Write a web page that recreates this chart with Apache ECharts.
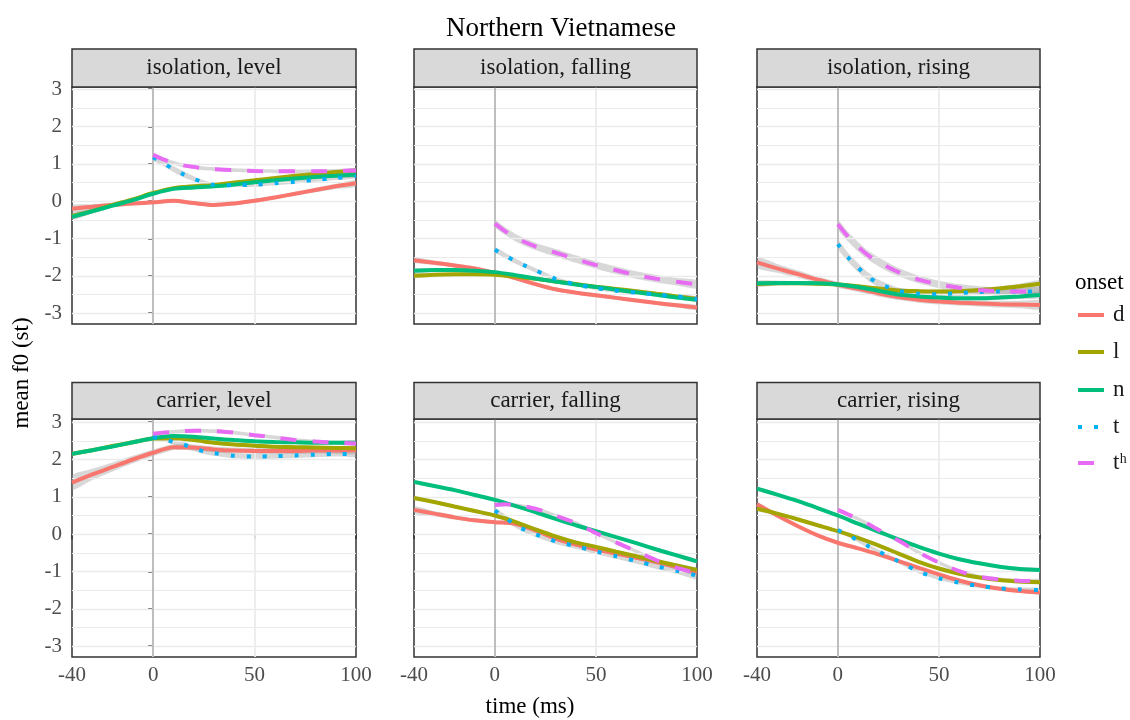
<!DOCTYPE html>
<html>
<head>
<meta charset="utf-8">
<script src="https://cdn.jsdelivr.net/npm/echarts@6/dist/echarts.min.js"></script>
<style>html,body{margin:0;padding:0;background:#fff}#c{width:1130px;height:720px}</style>
</head>
<body>
<div id="c"></div>
<script>
// ---------- data ----------
const xFull = [-40,-30,-20,-10,0,10,20,30,40,50,60,70,80,90,100];
const xOnset = [0,5,10,15,20,25,30,40,50,60,70,80,90,100];
const xTickLabels = [-40,0,50,100];
const yTickLabels = [-3,-2,-1,0,1,2,3];
const yMinorGrid = [-2.5,-1.5,-0.5,0.5,1.5,2.5];
const xMajorGrid = [50];
const onsetMarker = [0];
const onsets = ['d','l','n','t','tʰ'];
const panelTitles = ['isolation, level','isolation, falling','isolation, rising','carrier, level','carrier, falling','carrier, rising'];

// isolation, level
const isoLevel_d  = [-0.2,-0.15,-0.1,-0.06,-0.03,0.01,-0.05,-0.1,-0.06,0.01,0.1,0.2,0.3,0.4,0.48];
const isoLevel_l  = [-0.4,-0.26,-0.1,0.05,0.22,0.35,0.4,0.43,0.5,0.56,0.62,0.68,0.73,0.78,0.82];
const isoLevel_n  = [-0.42,-0.27,-0.12,0.03,0.2,0.33,0.37,0.4,0.45,0.51,0.56,0.61,0.65,0.68,0.71];
const isoLevel_t  = [1.18,1.02,0.86,0.72,0.6,0.5,0.44,0.43,0.44,0.48,0.52,0.57,0.62,0.67];
const isoLevel_th = [1.24,1.12,1.03,0.96,0.92,0.88,0.86,0.83,0.81,0.8,0.8,0.8,0.81,0.82];
// isolation, falling
const isoFall_d  = [-1.58,-1.65,-1.72,-1.8,-1.92,-2.06,-2.22,-2.36,-2.45,-2.52,-2.59,-2.66,-2.73,-2.79,-2.85];
const isoFall_l  = [-2.0,-1.97,-1.96,-1.96,-1.97,-2.02,-2.08,-2.15,-2.22,-2.29,-2.35,-2.41,-2.48,-2.55,-2.62];
const isoFall_n  = [-1.86,-1.84,-1.84,-1.86,-1.9,-1.98,-2.07,-2.15,-2.23,-2.3,-2.37,-2.44,-2.51,-2.58,-2.64];
const isoFall_t  = [-1.3,-1.45,-1.6,-1.73,-1.85,-1.97,-2.08,-2.23,-2.33,-2.4,-2.45,-2.5,-2.55,-2.62];
const isoFall_th = [-0.6,-0.8,-0.97,-1.1,-1.21,-1.3,-1.38,-1.55,-1.71,-1.85,-1.98,-2.08,-2.16,-2.23];
// isolation, rising
const isoRise_d  = [-1.64,-1.8,-1.95,-2.1,-2.24,-2.35,-2.47,-2.57,-2.64,-2.69,-2.72,-2.74,-2.76,-2.77,-2.78];
const isoRise_l  = [-2.22,-2.2,-2.2,-2.21,-2.23,-2.28,-2.34,-2.39,-2.41,-2.42,-2.41,-2.38,-2.34,-2.28,-2.21];
const isoRise_n  = [-2.2,-2.19,-2.19,-2.2,-2.23,-2.3,-2.4,-2.5,-2.55,-2.58,-2.6,-2.6,-2.58,-2.55,-2.51];
const isoRise_t  = [-1.15,-1.5,-1.78,-2.02,-2.2,-2.31,-2.4,-2.48,-2.49,-2.46,-2.43,-2.42,-2.42,-2.42];
const isoRise_th = [-0.62,-0.95,-1.22,-1.45,-1.62,-1.77,-1.9,-2.1,-2.23,-2.32,-2.38,-2.41,-2.42,-2.42];
// carrier, level
const carLevel_d  = [1.38,1.6,1.8,2.0,2.18,2.33,2.32,2.27,2.24,2.23,2.23,2.23,2.24,2.24,2.25];
const carLevel_l  = [2.15,2.25,2.36,2.46,2.56,2.57,2.52,2.45,2.4,2.37,2.34,2.33,2.32,2.31,2.3];
const carLevel_n  = [2.15,2.25,2.35,2.46,2.57,2.63,2.61,2.56,2.52,2.49,2.47,2.46,2.45,2.45,2.45];
const carLevel_t  = [2.6,2.56,2.47,2.4,2.3,2.22,2.17,2.1,2.08,2.09,2.11,2.13,2.15,2.15];
const carLevel_th = [2.69,2.72,2.74,2.76,2.77,2.77,2.76,2.72,2.65,2.59,2.52,2.48,2.45,2.43];
// carrier, falling
const carFall_d  = [0.65,0.55,0.45,0.37,0.32,0.28,0.1,-0.12,-0.28,-0.41,-0.52,-0.63,-0.75,-0.88,-1.02];
const carFall_l  = [0.97,0.86,0.74,0.62,0.5,0.33,0.13,-0.06,-0.22,-0.34,-0.47,-0.59,-0.72,-0.84,-0.96];
const carFall_n  = [1.4,1.29,1.18,1.05,0.92,0.76,0.59,0.41,0.24,0.08,-0.08,-0.24,-0.41,-0.57,-0.73];
const carFall_t  = [0.63,0.45,0.25,0.11,0.0,-0.1,-0.19,-0.32,-0.46,-0.59,-0.72,-0.86,-0.98,-1.11];
const carFall_th = [0.78,0.8,0.78,0.74,0.68,0.6,0.5,0.3,0.03,-0.22,-0.46,-0.7,-0.9,-1.04];
// carrier, rising
const carRise_d  = [0.8,0.5,0.22,-0.03,-0.23,-0.38,-0.54,-0.72,-0.9,-1.08,-1.24,-1.37,-1.46,-1.52,-1.56];
const carRise_l  = [0.68,0.55,0.4,0.24,0.08,-0.1,-0.3,-0.52,-0.74,-0.92,-1.06,-1.16,-1.23,-1.27,-1.29];
const carRise_n  = [1.22,1.06,0.89,0.7,0.5,0.28,0.07,-0.14,-0.34,-0.52,-0.67,-0.78,-0.87,-0.93,-0.96];
const carRise_t  = [0.11,-0.02,-0.17,-0.32,-0.46,-0.59,-0.73,-1.0,-1.18,-1.3,-1.39,-1.45,-1.48,-1.5];
const carRise_th = [0.65,0.53,0.41,0.27,0.12,-0.03,-0.17,-0.49,-0.76,-0.99,-1.14,-1.21,-1.25,-1.26];

// confidence-band half widths (read from the grey ribbons)
const ciIsoLevel_d  = [0.1,0.07,0.06,0.05,0.05,0.05,0.05,0.05,0.05,0.05,0.05,0.05,0.06,0.07,0.09];
const ciIsoLevel_l  = [0.08,0.06,0.05,0.04,0.04,0.04,0.04,0.04,0.04,0.04,0.04,0.04,0.05,0.05,0.07];
const ciIsoLevel_n  = [0.08,0.06,0.05,0.04,0.04,0.04,0.04,0.04,0.04,0.04,0.04,0.04,0.05,0.05,0.07];
const ciIsoLevel_t  = [0.08,0.08,0.08,0.08,0.07,0.06,0.05,0.05,0.05,0.05,0.05,0.05,0.05,0.06];
const ciIsoLevel_th = [0.06,0.05,0.05,0.05,0.05,0.05,0.05,0.05,0.05,0.05,0.05,0.05,0.05,0.06];
const ciIsoFall_d  = [0.07,0.06,0.05,0.05,0.05,0.05,0.05,0.05,0.05,0.05,0.05,0.05,0.05,0.06,0.07];
const ciIsoFall_l  = [0.06,0.05,0.04,0.04,0.04,0.04,0.04,0.04,0.04,0.04,0.04,0.04,0.05,0.05,0.06];
const ciIsoFall_n  = [0.06,0.05,0.04,0.04,0.04,0.04,0.04,0.04,0.04,0.04,0.04,0.04,0.05,0.05,0.06];
const ciIsoFall_t  = [0.07,0.07,0.07,0.06,0.06,0.06,0.05,0.05,0.05,0.05,0.05,0.05,0.06,0.07];
const ciIsoFall_th = [0.1,0.1,0.1,0.1,0.1,0.1,0.1,0.1,0.1,0.1,0.1,0.1,0.1,0.11];
const ciIsoRise_d  = [0.15,0.12,0.1,0.08,0.08,0.08,0.08,0.08,0.08,0.08,0.08,0.08,0.09,0.1,0.12];
const ciIsoRise_l  = [0.07,0.06,0.05,0.05,0.05,0.05,0.05,0.05,0.05,0.05,0.05,0.05,0.06,0.07,0.09];
const ciIsoRise_n  = [0.07,0.06,0.05,0.05,0.05,0.05,0.05,0.05,0.05,0.05,0.05,0.05,0.06,0.07,0.09];
const ciIsoRise_t  = [0.12,0.12,0.12,0.11,0.1,0.09,0.08,0.08,0.08,0.08,0.08,0.08,0.08,0.09];
const ciIsoRise_th = [0.13,0.13,0.13,0.12,0.12,0.12,0.11,0.1,0.1,0.1,0.1,0.1,0.1,0.11];
const ciCarLevel_d  = [0.2,0.15,0.12,0.1,0.09,0.08,0.08,0.08,0.08,0.08,0.08,0.08,0.08,0.09,0.1];
const ciCarLevel_l  = [0.05,0.04,0.04,0.04,0.04,0.04,0.04,0.04,0.04,0.04,0.04,0.04,0.04,0.05,0.06];
const ciCarLevel_n  = [0.05,0.04,0.04,0.04,0.04,0.04,0.04,0.04,0.04,0.04,0.04,0.04,0.04,0.05,0.06];
const ciCarLevel_t  = [0.07,0.07,0.07,0.07,0.07,0.07,0.07,0.07,0.07,0.07,0.07,0.07,0.07,0.08];
const ciCarLevel_th = [0.05,0.05,0.05,0.05,0.05,0.05,0.05,0.05,0.05,0.05,0.05,0.05,0.05,0.06];
const ciCarFall_d  = [0.1,0.07,0.06,0.05,0.05,0.05,0.05,0.05,0.05,0.05,0.05,0.05,0.06,0.07,0.09];
const ciCarFall_l  = [0.05,0.04,0.04,0.04,0.04,0.04,0.04,0.04,0.04,0.04,0.04,0.04,0.04,0.05,0.06];
const ciCarFall_n  = [0.05,0.04,0.04,0.04,0.04,0.04,0.04,0.04,0.04,0.04,0.04,0.04,0.04,0.05,0.06];
const ciCarFall_t  = [0.08,0.08,0.07,0.07,0.07,0.07,0.07,0.07,0.07,0.07,0.07,0.07,0.08,0.1];
const ciCarFall_th = [0.05,0.05,0.05,0.05,0.05,0.05,0.05,0.05,0.05,0.05,0.05,0.05,0.05,0.06];
const ciCarRise_d  = [0.06,0.05,0.04,0.04,0.04,0.04,0.04,0.04,0.04,0.04,0.04,0.04,0.04,0.05,0.06];
const ciCarRise_l  = [0.05,0.04,0.04,0.04,0.04,0.04,0.04,0.04,0.04,0.04,0.04,0.04,0.04,0.05,0.05];
const ciCarRise_n  = [0.05,0.04,0.04,0.04,0.04,0.04,0.04,0.04,0.04,0.04,0.04,0.04,0.04,0.05,0.05];
const ciCarRise_t  = [0.05,0.05,0.05,0.05,0.05,0.05,0.05,0.05,0.05,0.05,0.05,0.05,0.05,0.06];
const ciCarRise_th = [0.05,0.05,0.05,0.05,0.05,0.05,0.05,0.05,0.05,0.05,0.05,0.05,0.05,0.06];

// ---------- assembly ----------
const panelValues = [
  [isoLevel_d, isoLevel_l, isoLevel_n, isoLevel_t, isoLevel_th],
  [isoFall_d, isoFall_l, isoFall_n, isoFall_t, isoFall_th],
  [isoRise_d, isoRise_l, isoRise_n, isoRise_t, isoRise_th],
  [carLevel_d, carLevel_l, carLevel_n, carLevel_t, carLevel_th],
  [carFall_d, carFall_l, carFall_n, carFall_t, carFall_th],
  [carRise_d, carRise_l, carRise_n, carRise_t, carRise_th]
];
const panelCI = [
  [ciIsoLevel_d, ciIsoLevel_l, ciIsoLevel_n, ciIsoLevel_t, ciIsoLevel_th],
  [ciIsoFall_d, ciIsoFall_l, ciIsoFall_n, ciIsoFall_t, ciIsoFall_th],
  [ciIsoRise_d, ciIsoRise_l, ciIsoRise_n, ciIsoRise_t, ciIsoRise_th],
  [ciCarLevel_d, ciCarLevel_l, ciCarLevel_n, ciCarLevel_t, ciCarLevel_th],
  [ciCarFall_d, ciCarFall_l, ciCarFall_n, ciCarFall_t, ciCarFall_th],
  [ciCarRise_d, ciCarRise_l, ciCarRise_n, ciCarRise_t, ciCarRise_th]
];
const onsetX = [xFull, xFull, xFull, xOnset, xOnset];

const colors = ['#F8766D','#A3A500','#00BF7D','#00B0F6','#E76BF3'];
const dashes = ['solid','solid','solid',[4,12],[16,16]];
const FONT = '"Liberation Serif", "DejaVu Serif", serif';

const colLeft = [72, 414, 757];
const colWidth = [284, 283, 283];
const rowTop = [87, 419];
const rowHeight = [237, 238];
const rowMax = [3.06, 3.085];
const yMin = -3.29;

const grids = [], xAxes = [], yAxes = [], series = [], graphics = [];

for (let p = 0; p < 6; p++) {
  const r = Math.floor(p / 3), c = p % 3;
  grids.push({left: colLeft[c], top: rowTop[r], width: colWidth[c], height: rowHeight[r],
    show: true, borderColor: '#333333', borderWidth: 1.5, backgroundColor: '#fff', containLabel: false});
  const bottomRow = r === 1, leftCol = c === 0;
  xAxes.push({type: 'value', gridIndex: p, min: -40, max: 100,
    axisLine: {show: false}, splitLine: {show: false},
    axisTick: {show: bottomRow, customValues: xTickLabels, length: 5, lineStyle: {color: '#333', width: 1.5}},
    axisLabel: {show: bottomRow, customValues: xTickLabels, margin: 8, fontFamily: FONT, fontSize: 21, color: '#4d4d4d'}
  });
  yAxes.push({type: 'value', gridIndex: p, min: yMin, max: rowMax[r],
    axisLine: {show: false}, splitLine: {show: false},
    axisTick: {show: leftCol, customValues: yTickLabels, length: 5, lineStyle: {color: '#333', width: 1.5}},
    axisLabel: {show: leftCol, customValues: yTickLabels, margin: 10, fontFamily: FONT, fontSize: 21, color: '#4d4d4d'}
  });

  // grid lines + onset marker
  const mlData = [];
  yTickLabels.forEach(v => mlData.push({yAxis: v, lineStyle: {color: '#ebebeb', width: 1.4, type: 'solid'}}));
  yMinorGrid.forEach(v => mlData.push({yAxis: v, lineStyle: {color: '#ebebeb', width: 1, type: 'solid'}}));
  xMajorGrid.forEach(v => mlData.push({xAxis: v, lineStyle: {color: '#ebebeb', width: 1.8, type: 'solid'}}));
  onsetMarker.forEach(v => mlData.push({xAxis: v, lineStyle: {color: '#bebebe', width: 2, type: 'solid'}}));
  series.push({type: 'line', xAxisIndex: p, yAxisIndex: p, data: [], symbol: 'none',
    lineStyle: {width: 0, opacity: 0}, z: 1, silent: true, animation: false,
    markLine: {silent: true, symbol: ['none','none'], label: {show: false}, animation: false,
      emphasis: {disabled: true}, data: mlData}});

  // bands
  for (let k = 0; k < 5; k++) {
    const xs = onsetX[k], ys = panelValues[p][k], hw = panelCI[p][k];
    series.push({type: 'custom', xAxisIndex: p, yAxisIndex: p, z: 2, silent: true, animation: false,
      clip: true, encode: {x: 0, y: [1, 2]},
      data: xs.map((x, i) => [x, ys[i] - hw[i], ys[i] + hw[i]]),
      renderItem: function (params, api) {
        if (params.dataIndex !== 0) return null;
        const up = xs.map((x, i) => api.coord([x, ys[i] + hw[i]]));
        const lo = xs.map((x, i) => api.coord([x, ys[i] - hw[i]])).reverse();
        return {type: 'polygon', shape: {points: up.concat(lo), smooth: 0.2},
          style: {fill: 'rgba(153,153,153,0.38)'}};
      }});
  }
  // lines
  for (let k = 0; k < 5; k++) {
    const xs = onsetX[k], ys = panelValues[p][k];
    series.push({type: 'line', name: onsets[k], xAxisIndex: p, yAxisIndex: p, z: 5,
      data: xs.map((x, i) => [x, ys[i]]), symbol: 'none', showSymbol: false,
      smooth: 0.3, animation: false, silent: true,
      lineStyle: {color: colors[k], width: 4, type: dashes[k], cap: 'butt'},
      itemStyle: {color: colors[k]}});
  }

  // strip
  const stripTop = r === 0 ? 49 : 382.5;
  const stripH = rowTop[r] - stripTop;
  graphics.push({type: 'rect', shape: {x: colLeft[c], y: stripTop, width: colWidth[c], height: stripH},
    style: {fill: '#d9d9d9', stroke: '#333333', lineWidth: 1.5}, z: 10});
  graphics.push({type: 'text', x: colLeft[c] + colWidth[c] / 2, y: stripTop + stripH / 2,
    style: {text: panelTitles[p], font: '23px ' + FONT, fill: '#1a1a1a', textAlign: 'center', textVerticalAlign: 'middle'}, z: 11});
}

graphics.push({type: 'text', x: 530, y: 707, style: {text: 'time (ms)', font: '23px ' + FONT, fill: '#000', textAlign: 'center', textVerticalAlign: 'middle'}});
graphics.push({type: 'text', x: 22, y: 373, rotation: Math.PI / 2, style: {text: 'mean f0 (st)', font: '23px ' + FONT, fill: '#000', textAlign: 'center', textVerticalAlign: 'middle'}});
graphics.push({type: 'text', x: 1075, y: 283, style: {text: 'onset', font: '23px ' + FONT, fill: '#000', textAlign: 'left', textVerticalAlign: 'middle'}});

// legend keys
const legendY = [315, 352, 390, 427, 463];
onsets.forEach((o, k) => {
  graphics.push({type: 'line', shape: {x1: 1078, y1: legendY[k], x2: 1104, y2: legendY[k]},
    style: {stroke: colors[k], lineWidth: 4, lineDash: dashes[k] === 'solid' ? null : dashes[k], lineCap: 'butt'}});
  graphics.push({type: 'text', x: 1113, y: legendY[k], style: {text: o, font: '23px ' + FONT, fill: '#1a1a1a', textAlign: 'left', textVerticalAlign: 'middle'}});
});

const chart = echarts.init(document.getElementById('c'), null, {renderer: 'canvas'});
chart.setOption({
  animation: false,
  backgroundColor: '#fff',
  title: {text: 'Northern Vietnamese', left: 556, top: 10, textAlign: 'center',
    textStyle: {fontFamily: FONT, fontSize: 27, fontWeight: 'normal', color: '#000'}},
  grid: grids, xAxis: xAxes, yAxis: yAxes, series: series, graphic: graphics
});
</script>
</body>
</html>
